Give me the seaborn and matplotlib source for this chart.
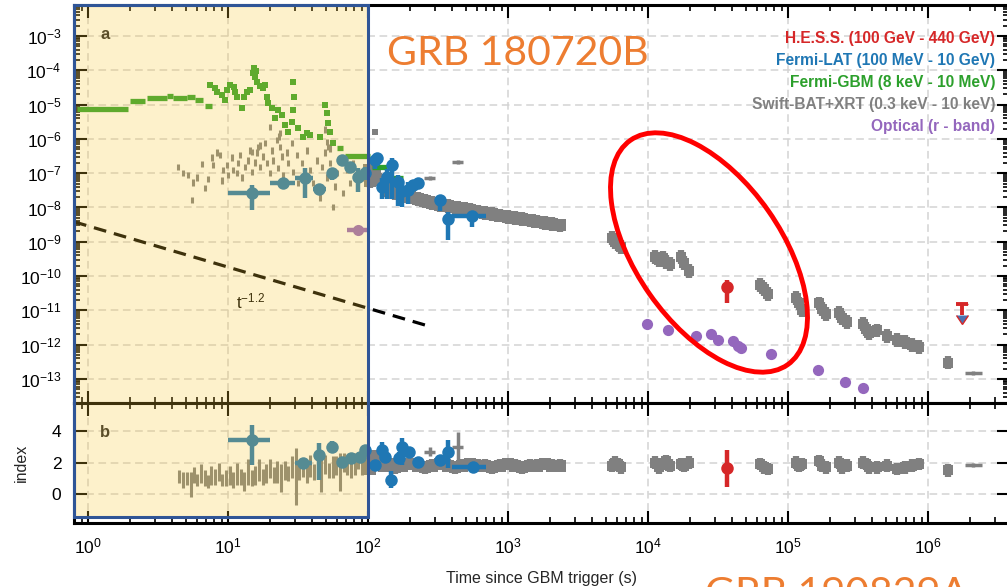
import numpy as np
import pandas as pd
import matplotlib
matplotlib.use("Agg")
import matplotlib.pyplot as plt
import seaborn as sns
from matplotlib.patches import Rectangle, Ellipse
from matplotlib.transforms import blended_transform_factory
from matplotlib.ticker import (FixedLocator, LogLocator, NullFormatter,
                               NullLocator, LogFormatterSciNotation)

# ---------------------------------------------------------------------------
# Light-curve data: time since GBM trigger (s), energy flux (erg cm^-2 s^-1),
# photon index
# ---------------------------------------------------------------------------

# Fermi-GBM, binned segments
gbm_bin_lo = [0.83, 2.0, 2.64, 3.66, 4.05, 5.1, 5.8, 6.8, 60.0, 68.0, 107.0, 150.0]
gbm_bin_hi = [1.93, 2.55, 3.66, 4.05, 5.1, 5.8, 6.6, 7.7, 66.0, 103.0, 137.0, 178.0]
gbm_bin_flux = [7.3e-6, 1.3e-5, 1.53e-5, 1.78e-5, 1.58e-5, 1.63e-5, 1.36e-5, 9.1e-6,
                5.4e-7, 3.1e-7, 1.5e-7, 7.2e-8]

# Fermi-GBM, fine time-resolved points
gbm_t = [7.4, 8.1, 8.3, 9.1, 9.5, 9.8, 10.3, 11.0, 11.2, 11.6,
         12.6, 13.0, 13.7, 14.4, 15.3, 15.6, 16.1, 17.8, 19.0, 19.3,
         20.6, 21.7, 22.8, 24.3, 25.5, 26.9, 29.1, 29.5, 29.3, 28.6,
         31.6, 34.4, 36.6, 38.5, 45.4, 49.3, 50.9, 51.8, 53.6, 56.2,
         15.0, 15.8, 17.0, 18.3]
gbm_flux = [3.7e-5, 3.05e-5, 2.33e-5, 1.9e-5, 1.36e-5, 2.67e-5, 3.7e-5, 3.26e-5, 2.33e-5, 1.67e-5,
            8.0e-6, 1.67e-5, 2.33e-5, 2.67e-5, 1.17e-4, 6.4e-5, 4.6e-5, 3.05e-5, 1.67e-5, 1.11e-5,
            8.0e-6, 4.1e-6, 7.0e-6, 5.0e-6, 2.5e-6, 1.6e-6, 4.6e-5, 1.67e-5, 7.0e-6, 3.1e-6,
            2.1e-6, 1.13e-6, 1.49e-6, 1.3e-6, 1.13e-6, 9.7e-6, 5.7e-6, 2.9e-6, 1.6e-6, 7.6e-7,
            8.5e-5, 9.5e-5, 3.5e-5, 3.8e-5]

# Swift-BAT prompt flux
bat_t = [4.4, 4.8, 5.2, 5.5, 5.6, 6.0, 6.5, 6.9, 7.2, 7.7,
         7.8, 8.3, 8.8, 9.1, 9.2, 9.8, 10.0, 10.7, 10.9, 11.6,
         11.8, 12.2, 12.6, 13.2, 13.9, 14.4, 14.8, 14.8, 15.6, 16.1,
         16.4, 16.9, 16.9, 17.8, 18.4, 19.0, 20.0, 20.0, 20.6, 21.0,
         22.4, 22.8, 23.0, 23.5, 23.5, 24.3, 24.7, 26.4, 26.8, 28.6,
         29.1, 31.1, 31.6, 33.8, 35.5, 36.7, 38.5, 40.5, 43.2, 45.4,
         46.9, 49.3, 49.3, 50.9, 50.9, 51.8, 53.5, 53.5, 56.2, 58.1,
         60.1, 63.1, 66.2, 70.8, 74.3, 78.1, 83.4, 90.6, 98.4]
bat_flux = [1.52e-7, 1.01e-7, 8.9e-8, 1.65e-8, 5.5e-8, 7.7e-8, 1.85e-7, 3.7e-8, 6.8e-8, 2.8e-7,
            1.73e-7, 3.9e-7, 3.4e-7, 6.3e-8, 1.24e-7, 1.73e-7, 8.9e-8, 2.8e-7, 1.24e-7, 1.01e-7,
            1.98e-7, 3.4e-7, 7.7e-8, 1.52e-7, 2.4e-7, 4.7e-7, 1.08e-7, 4.15e-7, 2.1e-7, 3.9e-7,
            5.8e-7, 1.52e-7, 6.6e-7, 3.0e-7, 7.6e-7, 1.98e-7, 1.01e-7, 2.22e-6, 4.7e-7, 2.4e-7,
            9.3e-7, 1.42e-7, 1.2e-6, 5.8e-7, 1.49e-6, 3.0e-7, 8.9e-8, 3.9e-7, 1.98e-7, 7.6e-7,
            1.08e-7, 3.4e-7, 5.2e-8, 1.98e-7, 7.7e-8, 4.7e-7, 1.24e-7, 5.2e-8, 2.4e-7, 2.0e-8,
            1.52e-7, 3.9e-7, 1.9e-6, 8.1e-7, 7.7e-8, 5.8e-7, 1.98e-7, 5.4e-7, 1.03e-8, 4.0e-8,
            1.01e-7, 2.4e-7, 2.65e-8, 1.24e-7, 5.2e-8, 1.98e-7, 4.0e-8, 7.7e-8, 1.52e-7]

# Swift-BAT photon index
bat_idx_t = [4.5, 4.8, 5.1, 5.4, 5.7, 6.0, 6.4, 6.8, 7.2, 7.6,
             8.1, 8.6, 9.1, 9.7, 10.3, 10.9, 11.6, 12.3, 13.1, 13.9,
             14.8, 15.7, 16.7, 17.7, 18.8, 20.0, 21.2, 22.5, 23.9, 25.4,
             27.0, 28.7, 30.5, 32.4, 34.4, 36.5, 38.8, 41.2, 43.8, 46.5,
             49.4, 52.5, 55.8, 59.3, 63.0, 66.9, 71.1, 75.5, 80.2, 85.2,
             90.5, 96.2]
bat_idx = [1.1, 0.9, 1.0, 0.6, 1.2, 0.9, 1.3, 1.0, 0.8, 1.2,
           1.1, 1.4, 0.9, 1.0, 1.2, 0.9, 1.3, 1.1, 0.8, 1.4,
           1.0, 1.2, 1.5, 1.1, 1.3, 1.6, 1.2, 1.4, 1.0, 1.5,
           1.3, 1.7, 1.1, 1.5, 1.6, 1.3, 1.8, 1.4, 1.6, 1.2,
           1.9, 1.5, 1.7, 1.8, 1.4, 2.0, 1.7, 1.6, 1.9, 2.1,
           1.8, 2.0]
bat_idx_err = [0.4, 0.5, 0.4, 0.8, 0.5, 0.4, 0.6, 0.5, 0.4, 0.6,
               0.5, 0.6, 0.4, 0.5, 0.6, 0.5, 0.7, 0.5, 0.6, 0.8,
               0.5, 0.6, 0.7, 0.5, 0.6, 0.6, 0.5, 0.7, 0.9, 0.6,
               0.5, 0.7, 1.8, 0.6, 0.5, 0.6, 0.7, 0.5, 0.6, 1.1,
               0.6, 0.5, 0.7, 0.6, 1.2, 0.6, 0.5, 0.6, 0.7, 0.5,
               0.6, 0.5]

# Swift-XRT early afterglow
xrt_t = [101, 104, 108, 113, 120, 130, 139, 156, 175, 200,
         228, 255, 287, 327, 373, 418, 469, 535, 611, 685,
         769, 877, 1000, 1122, 1259, 1436, 1611, 1837, 2061, 2350]
xrt_flux = [1.2e-7, 6e-8, 1.5e-7, 9e-8, 6.5e-8, 4.5e-8, 3.0e-8, 2.65e-8, 2.3e-8, 2.0e-8,
            1.77e-8, 1.55e-8, 1.35e-8, 1.2e-8, 1.08e-8, 1.0e-8, 9.4e-9, 8.3e-9, 7.6e-9, 7.0e-9,
            6.5e-9, 5.8e-9, 5.4e-9, 5.0e-9, 4.6e-9, 4.2e-9, 3.9e-9, 3.6e-9, 3.3e-9, 3.0e-9]
xrt_idx = [2.1, 1.6, 2.4, 1.9, 2.2, 1.8, 1.9, 1.7, 1.8, 1.9,
           1.8, 1.7, 1.8, 1.9, 1.8, 1.7, 1.8, 1.9, 1.8, 1.8,
           1.7, 1.8, 1.9, 1.8, 1.7, 1.8, 1.8, 1.9, 1.8, 1.8]

# Swift-XRT late afterglow
xrt_late_t = [5500, 5800, 6100, 6400,
              11300, 12000, 12700, 13500, 14300,
              17200, 18200, 19500,
              63500, 67000, 72000,
              115000, 120000, 126000,
              166000, 175000, 188000,
              232000, 245000, 265000,
              342000, 360000, 380000,
              430000, 510000, 600000, 680000, 775000, 860000,
              1.39e6]
xrt_late_flux = [1.3e-9, 1.0e-9, 8.5e-10, 7.0e-10,
                 3.6e-10, 3.0e-10, 3.3e-10, 2.6e-10, 2.3e-10,
                 3.6e-10, 2.4e-10, 1.4e-10,
                 5.6e-11, 4.2e-11, 3.0e-11,
                 2.3e-11, 1.6e-11, 1.0e-11,
                 1.6e-11, 1.1e-11, 8.0e-12,
                 8.5e-12, 6.0e-12, 4.5e-12,
                 4.0e-12, 2.9e-12, 2.2e-12,
                 2.6e-12, 1.8e-12, 1.4e-12, 1.2e-12, 1.0e-12, 8.5e-13,
                 3.0e-13]
xrt_late_idx = [1.8, 2.0, 1.9, 1.7,
                2.0, 1.7, 1.9, 2.1, 1.8,
                1.9, 1.8, 2.0,
                1.9, 1.7, 1.6,
                2.0, 1.8, 1.9,
                2.1, 1.8, 1.7,
                2.0, 1.7, 1.8,
                2.0, 1.9, 1.7,
                1.7, 1.8, 1.6, 1.7, 1.8, 1.9,
                1.5]

# Swift-XRT binned points with time extent: start, centre, end, flux, index
xrt_bin_lo = [250, 400, 1.84e6]
xrt_bin_t = [277, 439, 2.1e6]
xrt_bin_hi = [300, 480, 2.43e6]
xrt_bin_flux = [7.2e-8, 2.1e-7, 1.5e-13]
xrt_bin_idx = [2.7, 3.0, 1.85]
xrt_bin_idx_lo = [2.4, 1.65, 1.75]
xrt_bin_idx_hi = [3.0, 3.95, 1.95]

# Swift-XRT isolated early point
xrt_single_t = [112]
xrt_single_flux = [1.6e-6]

# Fermi-LAT flux: centre, start, end, flux, lower, upper
lat_t = [14.8, 24.7, 35.5, 44.7, 55.3, 65.2, 74.3, 84.8, 95.2, 112,
         116, 126, 137, 148, 164, 175, 193, 209, 228, 327, 373, 553]
lat_t_lo = [10.0, 20.0, 30.0, 40.5, 55.3, 65.2, 74.3, 84.8, 95.2, 112,
            116, 126, 137, 148, 164, 175, 193, 209, 215, 327, 350, 400]
lat_t_hi = [20.0, 30.0, 40.5, 50.0, 55.3, 65.2, 74.3, 84.8, 95.2, 112,
            116, 126, 137, 148, 164, 175, 193, 209, 240, 327, 400, 700]
lat_flux = [2.65e-8, 5.2e-8, 7.2e-8, 3.5e-8, 1.0e-7, 2.4e-7, 1.52e-7, 7.7e-8, 1.0e-7, 2.4e-7,
            2.8e-7, 4.0e-8, 7.7e-8, 1.73e-7, 5.5e-8, 3.0e-8, 3.3e-8, 4.5e-8, 5.2e-8, 1.65e-8,
            4.6e-9, 5.7e-9]
lat_flux_lo = [8.5e-9, 3.6e-8, 1.9e-8, 2.8e-8, 6.5e-8, 1.7e-7, 1.0e-7, 2.9e-8, 6.5e-8, 1.3e-7,
               2.0e-7, 1.8e-8, 1.8e-8, 1.8e-8, 1.1e-8, 1.0e-8, 1.3e-8, 3.0e-8, 3.5e-8, 8.0e-9,
               1.1e-9, 2.7e-9]
lat_flux_hi = [4.5e-8, 6.5e-8, 1.4e-7, 4.3e-8, 1.4e-7, 3.2e-7, 2.0e-7, 1.4e-7, 1.5e-7, 3.4e-7,
               3.6e-7, 7.2e-8, 1.3e-7, 2.8e-7, 8.9e-8, 5.0e-8, 5.5e-8, 6.5e-8, 7.0e-8, 2.2e-8,
               7.4e-9, 7.4e-9]

# Fermi-LAT photon index
lat_idx_t = [14.8, 24.7, 34.3, 45, 55, 65, 76, 88, 95, 112,
             126, 132, 145, 166, 175, 196, 228, 327, 373, 560]
lat_idx_t_lo = [10, 24.7, 30, 45, 55, 65, 76, 88, 95, 112,
                126, 132, 145, 166, 175, 196, 215, 327, 373, 400]
lat_idx_t_hi = [20, 24.7, 40, 45, 55, 65, 76, 88, 95, 112,
                126, 132, 145, 166, 175, 196, 240, 327, 373, 700]
lat_idx = [3.44, 7.0, 1.97, 2.48, 3.0, 2.04, 2.3, 2.37, 2.8, 1.85,
           2.8, 2.36, 0.9, 2.3, 3.0, 2.7, 2.04, 2.17, 2.68, 1.72]
lat_idx_lo = [1.85, 5.8, 1.67, 0.9, 2.65, 1.84, 2.05, 2.07, 2.45, 1.55,
              2.3, 2.06, 0.35, 1.95, 1.85, 2.4, 1.89, 1.87, 1.66, 1.57]
lat_idx_hi = [4.4, 8.2, 2.27, 3.25, 3.35, 2.24, 2.55, 2.67, 3.15, 2.15,
              3.3, 2.66, 1.45, 2.65, 3.6, 3.0, 2.19, 2.47, 3.44, 1.87]

# Optical r-band (converted to energy flux)
opt_t = [9840, 13900, 22000, 28200, 31600, 40500, 44000, 46200, 75600, 163700, 255000, 343000]
opt_flux = [4.0e-12, 2.7e-12, 1.8e-12, 2.05e-12, 1.37e-12, 1.28e-12, 9.2e-13, 8.0e-13,
            5.4e-13, 1.83e-13, 8.2e-14, 5.5e-14]
opt_early_t, opt_early_lo, opt_early_hi = [84.8], [70.8], [100.0]
opt_early_flux = [2.2e-9]

# H.E.S.S. detection and upper limit
hess_t = [36600]
hess_flux, hess_flux_lo, hess_flux_hi = [4.8e-11], [1.66e-11], [7.8e-11]
hess_idx, hess_idx_lo, hess_idx_hi = [1.65], [0.45], [2.8]
hess_ul_t, hess_ul_lo, hess_ul_hi = [1.75e6], [1.58e6], [1.92e6]
hess_ul_flux = [1.55e-11]

# Power-law guide F = norm * t^index
pl_norm, pl_index = 2.9e-9, -1.2
pl_t_range = [0.794, 286.0]

legend_entries = ["H.E.S.S. (100 GeV - 440 GeV)", "Fermi-LAT (100 MeV - 10 GeV)",
                  "Fermi-GBM (8 keV - 10 MeV)", "Swift-BAT+XRT (0.3 keV - 10 keV)",
                  "Optical (r - band)"]

# ---------------------------------------------------------------------------
C_HESS, C_LAT, C_GBM, C_XRT, C_OPT = "#d62728", "#1f77b4", "#2ca02c", "#808080", "#9467bd"
C_TITLE = "#ED7D31"
legend_colors = [C_HESS, C_LAT, C_GBM, C_XRT, C_OPT]

sns.set_theme(style="ticks")
plt.rcParams["font.family"] = ["Liberation Sans", "DejaVu Sans"]
plt.rcParams["mathtext.default"] = "regular"

W, H = 1007, 587
fig = plt.figure(figsize=(W / 100, H / 100), dpi=100)


def px_rect(x0, y0, x1, y1):
    return [x0 / W, 1 - y1 / H, (x1 - x0) / W, (y1 - y0) / H]


LEFT, RIGHT, TOP_A, MID, BOT_B = 74, 1009, 5, 403, 523
ax = fig.add_axes(px_rect(LEFT, TOP_A, RIGHT, MID))
axb = fig.add_axes(px_rect(LEFT, MID, RIGHT, BOT_B), sharex=ax)

ax.set_xscale("log")
ax.set_yscale("log")
ax.set_xlim(0.794, 3.79e6)
ax.set_ylim(10 ** -13.70, 10 ** -2.096)
axb.set_ylim(-1.85, 5.80)


def log_err(vals, dex):
    v = np.asarray(vals, dtype=float)
    return [v * (1 - 10 ** -dex), v * (10 ** dex - 1)]


def asym(vals, lo, hi):
    return [np.subtract(vals, lo), np.subtract(hi, vals)]


# ---------------- panel a: fluxes ----------------
ax.errorbar(bat_t, bat_flux, yerr=log_err(bat_flux, 0.1), fmt="none",
            ecolor=C_XRT, elinewidth=2.2, capsize=0, zorder=2)
ax.errorbar(xrt_t, xrt_flux, yerr=log_err(xrt_flux, 0.2), fmt="s", ms=8, mew=0,
            color=C_XRT, elinewidth=4.5, capsize=0, zorder=2)
ax.errorbar(xrt_late_t, xrt_late_flux, yerr=log_err(xrt_late_flux, 0.2), fmt="s", ms=7,
            mew=0, color=C_XRT, elinewidth=4.5, capsize=0, zorder=2)
ax.errorbar(xrt_bin_t, xrt_bin_flux, xerr=asym(xrt_bin_t, xrt_bin_lo, xrt_bin_hi),
            yerr=log_err(xrt_bin_flux, 0.06), fmt="none", ecolor=C_XRT, elinewidth=2.5,
            capsize=0, zorder=2)
sns.scatterplot(x=xrt_single_t, y=xrt_single_flux, ax=ax, color=C_XRT, marker="s",
                s=14, linewidth=0, zorder=2)

ax.hlines(gbm_bin_flux, gbm_bin_lo, gbm_bin_hi, colors=C_GBM, lw=3.8, zorder=3)
gbm_df = pd.DataFrame({"t": gbm_t, "flux": gbm_flux})
sns.scatterplot(data=gbm_df, x="t", y="flux", ax=ax, color=C_GBM, marker="s",
                s=22, linewidth=0, zorder=3)

ax.errorbar(lat_t, lat_flux, xerr=asym(lat_t, lat_t_lo, lat_t_hi),
            yerr=asym(lat_flux, lat_flux_lo, lat_flux_hi), fmt="o", ms=9, mew=0,
            color=C_LAT, elinewidth=3.2, capsize=0, zorder=4)

opt_df = pd.DataFrame({"t": opt_t, "flux": opt_flux})
sns.scatterplot(data=opt_df, x="t", y="flux", ax=ax, color=C_OPT, s=65,
                linewidth=0, zorder=4)
ax.errorbar(opt_early_t, opt_early_flux, xerr=asym(opt_early_t, opt_early_lo, opt_early_hi),
            fmt="o", ms=8, mew=0, color=C_OPT, elinewidth=3.2, capsize=0, zorder=4)

ax.errorbar(hess_t, hess_flux, yerr=asym(hess_flux, hess_flux_lo, hess_flux_hi), fmt="o",
            ms=9, mew=0, color=C_HESS, elinewidth=3.2, capsize=0, zorder=5)
ax.errorbar(hess_ul_t, hess_ul_flux, yerr=[np.multiply(hess_ul_flux, 0.52)], uplims=True,
            fmt="none", ecolor=C_HESS, elinewidth=2.8, capsize=4.5, zorder=5)
ax.errorbar(hess_ul_t, hess_ul_flux, xerr=asym(hess_ul_t, hess_ul_lo, hess_ul_hi),
            fmt="none", ecolor=C_HESS, elinewidth=2.8, capsize=0, zorder=5)

pl_t = np.array(pl_t_range)
ax.plot(pl_t, pl_norm * pl_t ** pl_index, color="black", ls=(0, (4, 2.5)), lw=2.3, zorder=3)
ax.text(14.4, 1.8e-11, r"$t^{-1.2}$", fontsize=12, ha="center", va="center", color="black")

ax.text(0.028, 0.925, "a", transform=ax.transAxes, fontsize=12, fontweight="bold",
        ha="left", va="center")

# ---------------- panel b: photon index ----------------
axb.errorbar(bat_idx_t, bat_idx, yerr=bat_idx_err, fmt="none", ecolor=C_XRT,
             elinewidth=2.2, capsize=0, zorder=2)
axb.errorbar(xrt_t, xrt_idx, yerr=0.4, fmt="s", ms=8, mew=0, color=C_XRT,
             elinewidth=4.5, capsize=0, zorder=2)
axb.errorbar(xrt_late_t, xrt_late_idx, yerr=0.4, fmt="s", ms=7, mew=0, color=C_XRT,
             elinewidth=4.5, capsize=0, zorder=2)
axb.errorbar(xrt_bin_t, xrt_bin_idx, xerr=asym(xrt_bin_t, xrt_bin_lo, xrt_bin_hi),
             yerr=asym(xrt_bin_idx, xrt_bin_idx_lo, xrt_bin_idx_hi), fmt="none",
             ecolor=C_XRT, elinewidth=2.5, capsize=0, zorder=2)
axb.errorbar(lat_idx_t, lat_idx, xerr=asym(lat_idx_t, lat_idx_t_lo, lat_idx_t_hi),
             yerr=asym(lat_idx, lat_idx_lo, lat_idx_hi), fmt="o", ms=9, mew=0,
             color=C_LAT, elinewidth=3.2, capsize=0, zorder=4)
axb.errorbar(hess_t, hess_idx, yerr=asym(hess_idx, hess_idx_lo, hess_idx_hi), fmt="o",
             ms=9, mew=0, color=C_HESS, elinewidth=3.2, capsize=0, zorder=5)
axb.text(0.028, 0.758, "b", transform=axb.transAxes, fontsize=12, fontweight="bold",
         ha="left", va="center")

# ---------------- axes styling ----------------
decades_x = [10.0 ** k for k in range(0, 7)]
decades_y = [10.0 ** k for k in range(-13, -2)]
ax.xaxis.set_major_locator(FixedLocator(decades_x))
ax.xaxis.set_minor_locator(LogLocator(base=10, subs=np.arange(2, 10), numticks=200))
ax.xaxis.set_major_formatter(LogFormatterSciNotation())
ax.xaxis.set_minor_formatter(NullFormatter())
ax.yaxis.set_major_locator(FixedLocator(decades_y))
ax.yaxis.set_minor_locator(LogLocator(base=10, subs=np.arange(2, 10), numticks=200))
ax.yaxis.set_major_formatter(LogFormatterSciNotation())
ax.yaxis.set_minor_formatter(NullFormatter())
axb.yaxis.set_major_locator(FixedLocator([0, 2, 4]))
axb.yaxis.set_minor_locator(NullLocator())

for a in (ax, axb):
    a.tick_params(axis="both", which="both", direction="in", top=True, right=True,
                  bottom=True, left=True, colors="black")
    a.tick_params(which="major", length=9, width=1.5, labelsize=12.5)
    a.tick_params(which="minor", length=4.5, width=1.2)
    a.tick_params(axis="y", which="major", pad=9)
    a.grid(True, which="major", color="#d3d3d3", ls=(0, (5, 3)), lw=1.1)
    a.grid(False, which="minor")
    for s in a.spines.values():
        s.set_linewidth(2.2)
        s.set_color("black")
    a.set_xlabel("")
    a.set_ylabel("")
ax.tick_params(axis="x", labelbottom=False)
axb.tick_params(axis="x", which="major", pad=10)

axb.set_xlabel("Time since GBM trigger (s)", fontsize=11.5)
axb.xaxis.set_label_coords(0.5, -0.40)
axb.set_ylabel("index", fontsize=11.5)
axb.yaxis.set_label_coords(-0.048, 0.5)

# Prompt-phase window (first 100 s) shaded over both panels
band_tr = blended_transform_factory(ax.transData, fig.transFigure)
y0_fig, y1_fig = 1 - 517 / H, 1 - 5 / H
fig.add_artist(Rectangle((0.794, y0_fig), 100 - 0.794, y1_fig - y0_fig, transform=band_tr,
                         facecolor=(250 / 255, 200 / 255, 50 / 255, 0.25), edgecolor="none",
                         zorder=5))
fig.add_artist(Rectangle((0.794, y0_fig), 100 - 0.794, y1_fig - y0_fig, transform=band_tr,
                         facecolor="none", edgecolor="#2F5597", lw=2.2, zorder=6))

# ---------------- overlay annotations in pixel units ----------------
ov = fig.add_axes([0, 0, 1, 1])
ov.set_xlim(0, W)
ov.set_ylim(H, 0)
ov.axis("off")
ov.set_zorder(10)

ov.add_patch(Ellipse((709, 252.5), width=274, height=145, angle=55, fill=False,
                     edgecolor="#ff0000", lw=3.5))
ov.text(387, 65, "GRB 180720B", fontsize=29.5, color=C_TITLE, family="Lato",
        ha="left", va="baseline")
ov.text(705, 606, "GRB 190829A", fontsize=29.5, color=C_TITLE, family="Lato",
        ha="left", va="baseline", clip_on=False)

for label, col, yy in zip(legend_entries, legend_colors, [39, 61, 82, 104, 126]):
    ov.text(995, yy, label, color=col, fontsize=11.2, fontweight="bold",
            ha="right", va="center")

fig.savefig("out.png", dpi=100)
